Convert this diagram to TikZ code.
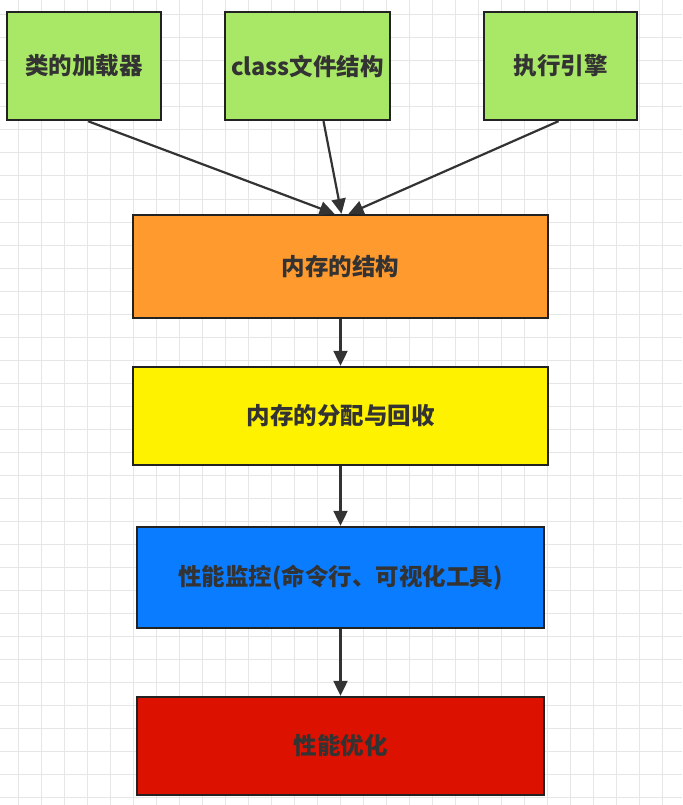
\documentclass[tikz,border=0pt]{standalone}
\usepackage{fontspec}
\setmainfont{Noto Sans CJK SC}
\usepackage{xcolor}
\usepackage{tikz}
\usetikzlibrary{arrows.meta}
\definecolor{body}{HTML}{333333}
\definecolor{edge}{HTML}{222222}
\definecolor{gridline}{HTML}{E6E6E6}
\definecolor{greenbox}{HTML}{A9E866}
\definecolor{orangebox}{HTML}{FF9A2E}
\definecolor{yellowbox}{HTML}{FFF200}
\definecolor{bluebox}{HTML}{0A7CFF}
\definecolor{redbox}{HTML}{DD1100}

\tikzset{
  box/.style={draw=edge, line width=2.4pt, text=body,
    font=\fontsize{23.5}{28}\selectfont\bfseries, inner sep=0pt},
  topbox/.style={box, fill=greenbox, minimum height=108pt},
  wide/.style={box, minimum width=#1},
  flow/.style={draw=body, line width=2.2pt, -{Triangle[length=15pt,width=14pt]}}
}

\begin{document}
\begin{tikzpicture}[x=1pt, y=-1pt]
  \useasboundingbox (0,0) rectangle (682,805);
  \fill[white] (0,0) rectangle (682,805);
  \draw[gridline, line width=1pt, xstep=23pt, ystep=23pt, shift={(18,15)}]
    (-18,-15) grid (664,790);

  % top row
  \node[topbox, minimum width=154pt] (loader) at (84,66) {类的加载器};
  \node[topbox, minimum width=165pt] (classfile) at (307.5,66) {class文件结构};
  \node[topbox, minimum width=153pt] (engine) at (560.5,66) {执行引擎};

  % main column
  \node[wide=415pt, fill=orangebox, minimum height=103pt] (memory) at (340.5,266.5) {内存的结构};
  \node[wide=415pt, fill=yellowbox, minimum height=98pt] (alloc) at (340.5,416) {内存的分配与回收};
  \node[wide=407pt, fill=bluebox, minimum height=101pt] (monitor) at (340.5,577.5) {性能监控(命令行、可视化工具)};
  \node[wide=407pt, fill=redbox, minimum height=98pt] (tuning) at (340.5,746) {性能优化};

  \draw[flow] ([xshift=4pt]loader.south) -- ([xshift=-6pt]memory.north);
  \draw[flow] ([xshift=16pt]classfile.south) -- ([xshift=1pt]memory.north);
  \draw[flow] ([xshift=-2pt]engine.south) -- ([xshift=8pt]memory.north);
  \draw[flow] (memory) -- (alloc);
  \draw[flow] (alloc) -- (monitor);
  \draw[flow] (monitor) -- (tuning);
\end{tikzpicture}
\end{document}
